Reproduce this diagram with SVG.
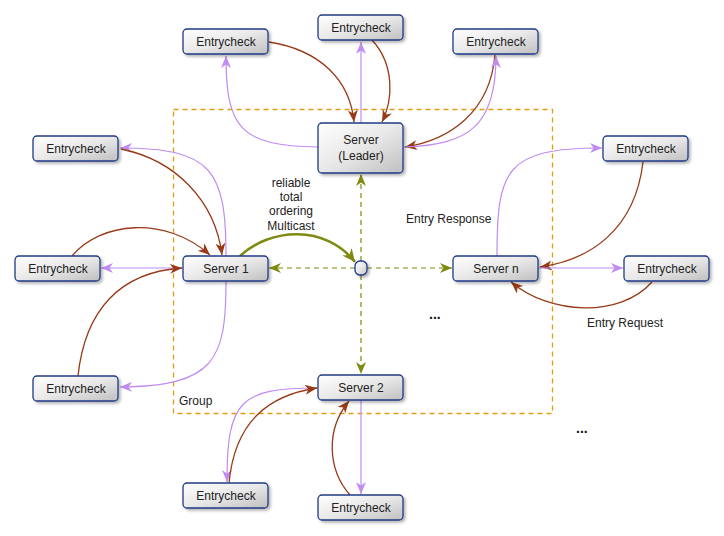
<svg xmlns="http://www.w3.org/2000/svg" width="724" height="536" viewBox="0 0 724 536">
<style>
.node rect{fill:url(#g);stroke:#1f3a86;stroke-width:1.3;filter:url(#sh)}
.node text,.lbl{font-family:"Liberation Sans",Arial,sans-serif;font-size:12px;fill:#222}
.node text{text-anchor:middle}
.p{fill:none;stroke:#c08cf2;stroke-width:1.2;marker-end:url(#ap)}
.b{fill:none;stroke:#983a18;stroke-width:1.3;marker-end:url(#ab)}
.o{fill:none;stroke:#7f8a10;stroke-width:1.2;stroke-dasharray:5,4;marker-end:url(#ao)}
.ot{fill:none;stroke:#7f8a10;stroke-width:2.6;marker-end:url(#ao2)}
.dots{font-family:"Liberation Sans",Arial,sans-serif;font-size:14px;font-weight:bold;fill:#111}
</style>
<defs>
<linearGradient id="g" x1="0" y1="0" x2="1" y2="1">
<stop offset="0" stop-color="#ffffff"/>
<stop offset="0.5" stop-color="#e8e8e8"/>
<stop offset="1" stop-color="#bfbfbf"/>
</linearGradient>
<filter id="sh" x="-20%" y="-30%" width="150%" height="180%">
<feGaussianBlur in="SourceAlpha" stdDeviation="1.5"/>
<feOffset dx="2" dy="2" result="o"/>
<feComponentTransfer><feFuncA type="linear" slope="0.3"/></feComponentTransfer>
<feMerge><feMergeNode/><feMergeNode in="SourceGraphic"/></feMerge>
</filter>
<marker id="ap" markerUnits="userSpaceOnUse" markerWidth="14" markerHeight="12" refX="12" refY="5" orient="auto"><path d="M0,0 L12,5 L0,10 L3.5,5 z" fill="#c08cf2"/></marker>
<marker id="ab" markerUnits="userSpaceOnUse" markerWidth="14" markerHeight="12" refX="12" refY="5" orient="auto"><path d="M0,0 L12,5 L0,10 L3.5,5 z" fill="#983a18"/></marker>
<marker id="ao" markerUnits="userSpaceOnUse" markerWidth="14" markerHeight="12" refX="12" refY="5" orient="auto"><path d="M0,0 L12,5 L0,10 L3.5,5 z" fill="#7f8a10"/></marker>
<marker id="ao2" markerUnits="userSpaceOnUse" markerWidth="16" markerHeight="14" refX="13" refY="6" orient="auto"><path d="M0,0 L13,6 L0,12 L4,6 z" fill="#7f8a10"/></marker>
</defs>
<rect width="724" height="536" fill="#ffffff"/>
<g id="group-box">
<rect x="173.5" y="109.5" width="379" height="304" fill="none" stroke="#e39c12" stroke-width="1.3" stroke-dasharray="5,4"/>
<text class="lbl" x="179" y="405">Group</text>
</g>
<g id="connectors">
<path class="p" d="M318,147 C240,146 226,128 226,56"/>
<path class="b" d="M269,42 C320,50 350,80 354,122"/>
<path class="p" d="M361,123 L361,42"/>
<path class="b" d="M372,40 C395,65 393,100 382,122"/>
<path class="b" d="M495,55 C490,112 450,140 405,147"/>
<path class="p" d="M404,147 C470,145 496,125 496,56"/>
<path class="p" d="M226,256 C226,170 212,148 120,148"/>
<path class="b" d="M121,149 C175,160 215,200 222,255"/>
<path class="b" d="M72,256 C100,222 165,215 210,255"/>
<path class="p" d="M183,268 L101,268"/>
<path class="b" d="M78,376 C85,310 120,272 182,268"/>
<path class="p" d="M226,281 C226,360 215,386 120,387"/>
<path class="p" d="M497,256 C497,170 505,148 602,148"/>
<path class="b" d="M643,162 C635,230 590,260 540,267"/>
<path class="p" d="M538,268 L623,268"/>
<path class="b" d="M652,282 C620,318 550,315 511,282"/>
<path class="p" d="M318,388 C240,388 227,400 227,482"/>
<path class="b" d="M229,483 C235,420 270,395 317,388"/>
<path class="b" d="M350,495 C328,470 325,430 349,401"/>
<path class="p" d="M361,400 L361,494"/>
<path class="ot" d="M240,256 C270,228 325,224 355,262"/>
<path class="o" d="M355,268 L269,268"/>
<path class="o" d="M367,268 L452,268"/>
<path class="o" d="M361,261 L361,174"/>
<path class="o" d="M361,275 L361,374"/>
</g>
<g id="hub" class="node"><rect x="355" y="261" width="12" height="14" rx="5"/></g>
<g id="leader" class="node"><rect x="318" y="123" width="85" height="50" rx="4"/><text x="361" y="144">Server</text><text x="361" y="160">(Leader)</text></g>
<g id="server1" class="node"><rect x="183" y="256" width="85" height="25" rx="4"/><text x="226" y="273">Server 1</text></g>
<g id="servern" class="node"><rect x="453" y="256" width="85" height="25" rx="4"/><text x="496" y="273">Server n</text></g>
<g id="server2" class="node"><rect x="318" y="375" width="85" height="25" rx="4"/><text x="361" y="392">Server 2</text></g>
<g id="ec-top-left" class="node"><rect x="183" y="29" width="85" height="25" rx="4"/><text x="226" y="46">Entrycheck</text></g>
<g id="ec-top-mid" class="node"><rect x="318" y="15" width="85" height="25" rx="4"/><text x="361" y="32">Entrycheck</text></g>
<g id="ec-top-right" class="node"><rect x="453" y="29" width="85" height="25" rx="4"/><text x="496" y="46">Entrycheck</text></g>
<g id="ec-left-top" class="node"><rect x="33" y="136" width="85" height="25" rx="4"/><text x="76" y="153">Entrycheck</text></g>
<g id="ec-left-mid" class="node"><rect x="15" y="256" width="85" height="25" rx="4"/><text x="58" y="273">Entrycheck</text></g>
<g id="ec-left-bottom" class="node"><rect x="33" y="376" width="85" height="25" rx="4"/><text x="76" y="393">Entrycheck</text></g>
<g id="ec-right-top" class="node"><rect x="603" y="136" width="85" height="25" rx="4"/><text x="646" y="153">Entrycheck</text></g>
<g id="ec-right-mid" class="node"><rect x="624" y="256" width="85" height="25" rx="4"/><text x="667" y="273">Entrycheck</text></g>
<g id="ec-bottom-left" class="node"><rect x="183" y="483" width="85" height="25" rx="4"/><text x="226" y="500">Entrycheck</text></g>
<g id="ec-bottom-mid" class="node"><rect x="318" y="495" width="85" height="25" rx="4"/><text x="361" y="512">Entrycheck</text></g>
<g id="labels">
<text class="lbl" text-anchor="middle" x="291" y="187">reliable</text>
<text class="lbl" text-anchor="middle" x="291" y="201">total</text>
<text class="lbl" text-anchor="middle" x="291" y="215">ordering</text>
<text class="lbl" text-anchor="middle" x="291" y="230">Multicast</text>
<text class="lbl" x="406" y="223">Entry Response</text>
<text class="lbl" x="587" y="327">Entry Request</text>
<text class="dots" x="429" y="319">...</text>
<text class="dots" x="576" y="433">...</text>
</g>
</svg>
